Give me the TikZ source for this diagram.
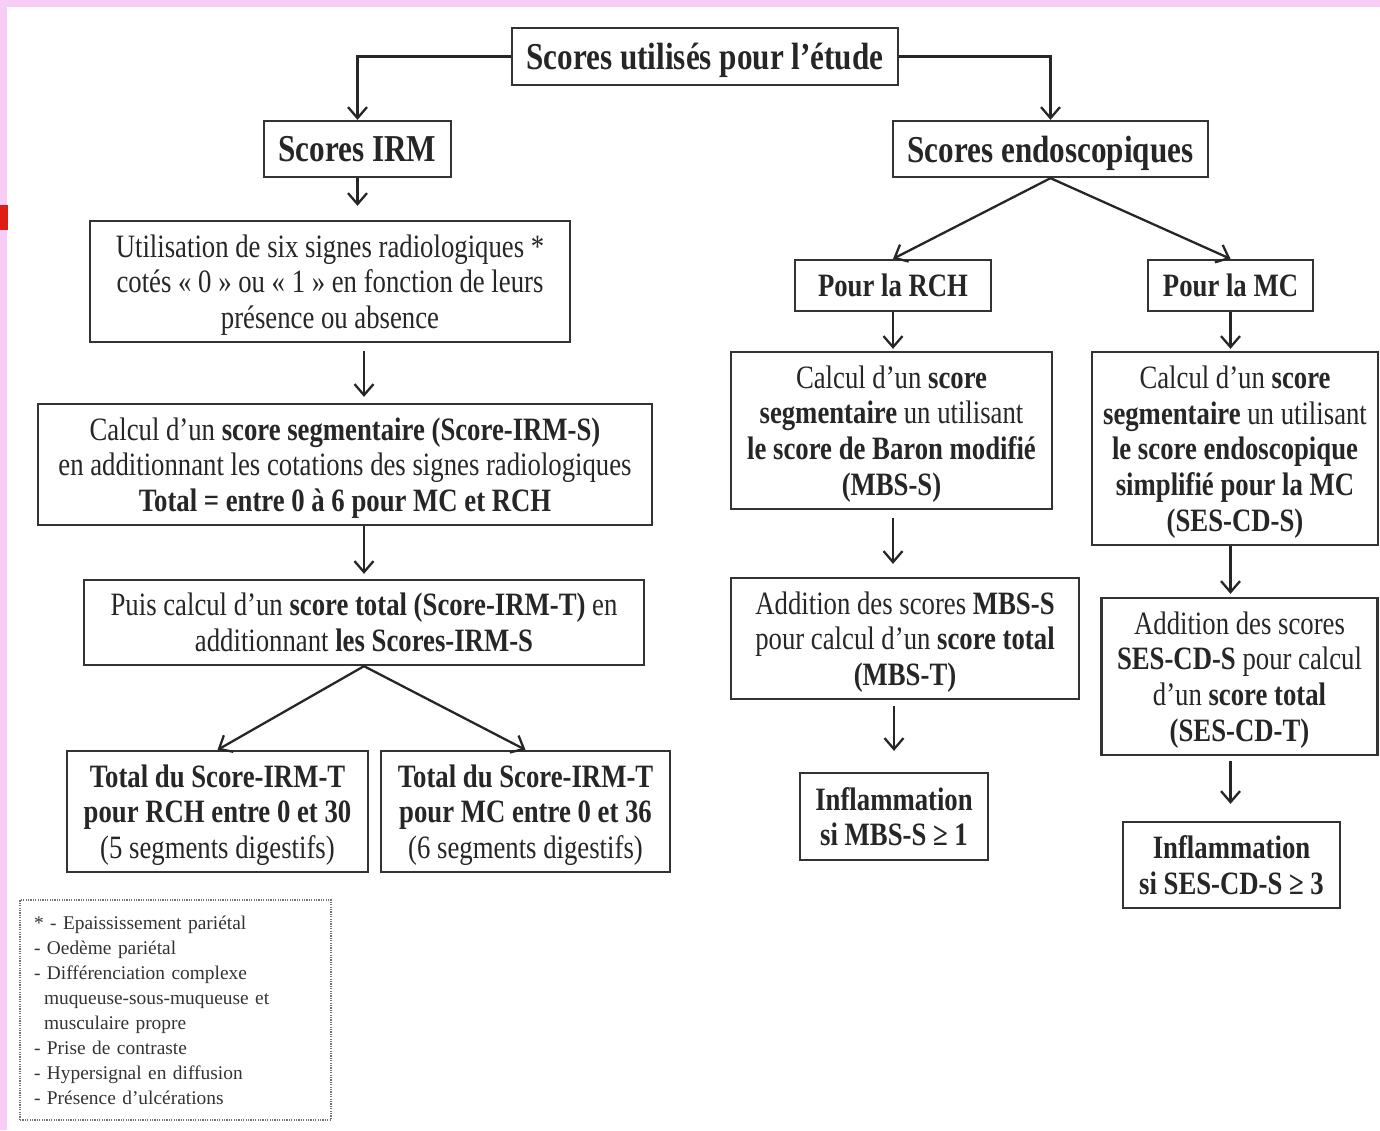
\documentclass[tikz,border=0pt]{standalone}
\usepackage{fontspec}
\setmainfont{Liberation Serif}[FakeStretch=0.82]
\newfontfamily\legendfont{Liberation Serif}
\usetikzlibrary{arrows.meta}
\definecolor{pinkedge}{RGB}{248,205,245}
\definecolor{redmark}{RGB}{222,30,20}

\begin{document}
\begin{tikzpicture}[x=0.5pt,y=-0.5pt,->,>={Straight Barb[length=5.5pt,width=9.5pt]},line width=1.15pt,color=black!85,
    base/.style={draw=black!80,-,align=center,inner sep=0pt,text depth=-1.5pt},
    box/.style 2 args={base,minimum width=#1,minimum height=#2,font=\fontsize{16.3}{17.9}\selectfont},
    tag/.style 2 args={base,minimum width=#1,minimum height=#2,font=\fontsize{16.3}{17.9}\selectfont\bfseries},
    head/.style 2 args={base,minimum width=#1,minimum height=#2,font=\fontsize{19}{22}\selectfont\bfseries},
    note/.style={draw=black!55,-,line width=0.8pt,dash pattern=on 0.6pt off 0.6pt,align=left,inner xsep=7pt,
        text width=141.5pt,minimum width=155.5pt,minimum height=110pt,text=black!80,
        font=\legendfont\fontsize{9.7}{12.5}\selectfont}]
    \useasboundingbox (0,0) rectangle (1380,1130);
    \fill[pinkedge] (0,0) rectangle (1380,7);
    \fill[pinkedge] (0,0) rectangle (7,1130);
    \fill[redmark] (0,205) rectangle (8,230);

    \node[head={193pt}{28.5pt}] (etude) at (705,56.5) {Scores utilisés pour l’étude};
    \node[head={93.5pt}{28pt}] (irm) at (357.5,149) {Scores IRM};
    \node[head={157.5pt}{28pt}] (endo) at (1050.5,149) {Scores endoscopiques};

    \node[box={240pt}{60.5pt}] (signes) at (330,281.5)
        {Utilisation de six signes radiologiques *\\cotés « 0 » ou « 1 » en fonction de leurs\\présence ou absence};
    \node[box={307pt}{60.5pt}] (segm) at (345,464.5)
        {Calcul d’un \textbf{score segmentaire (Score-IRM-S)}\\en additionnant les cotations des signes radiologiques\\\textbf{Total = entre 0 à 6 pour MC et RCH}};
    \node[box={280pt}{42.5pt}] (total) at (364,622.5)
        {Puis calcul d’un \textbf{score total (Score-IRM-T)} en\\additionnant \textbf{les Scores-IRM-S}};
    \node[box={150.5pt}{60.5pt}] (totrch) at (217.5,811.5)
        {\textbf{Total du Score-IRM-T}\\\textbf{pour RCH entre 0 et 30}\\(5 segments digestifs)};
    \node[box={144.5pt}{60.5pt}] (totmc) at (525.5,811.5)
        {\textbf{Total du Score-IRM-T}\\\textbf{pour MC entre 0 et 36}\\(6 segments digestifs)};
    \node[note] (signeslist) at (175.5,1010)
        {* - Epaississement pariétal\\- Oedème pariétal\\- Différenciation complexe\\\hspace*{5pt}muqueuse-sous-muqueuse et\\\hspace*{5pt}musculaire propre\\- Prise de contraste\\- Hypersignal en diffusion\\- Présence d’ulcérations};

    \node[tag={98pt}{25.5pt}] (rch) at (893,285.5) {Pour la RCH};
    \node[tag={82.5pt}{25.5pt}] (mc) at (1230.5,285.5) {Pour la MC};

    \node[box={160.5pt}{78.5pt}] (mbss) at (891.5,430.5)
        {Calcul d’un \textbf{score}\\\textbf{segmentaire} un utilisant\\\textbf{le score de Baron modifié}\\\textbf{(MBS-S)}};
    \node[box={143pt}{96.5pt}] (sess) at (1235,448.5)
        {Calcul d’un \textbf{score}\\\textbf{segmentaire} un utilisant\\\textbf{le score endoscopique}\\\textbf{simplifié pour la MC}\\\textbf{(SES-CD-S)}};
    \node[box={174pt}{60.5pt}] (mbst) at (905,638.5)
        {Addition des scores \textbf{MBS-S}\\pour calcul d’un \textbf{score total}\\\textbf{(MBS-T)}};
    \node[box={138pt}{78.5pt}] (sest) at (1239.5,676.5)
        {Addition des scores\\\textbf{SES-CD-S} pour calcul\\d’un \textbf{score total}\\\textbf{(SES-CD-T)}};
    \node[tag={94pt}{43.5pt}] (inflrch) at (894,816.5)
        {Inflammation\\si MBS-S ≥ 1};
    \node[tag={108.5pt}{43pt}] (inflmc) at (1231.5,865)
        {Inflammation\\si SES-CD-S ≥ 3};

    \draw (etude.west) -| (irm.north);
    \draw (etude.east) -| (endo.north);
    \draw[shorten >=7pt] (irm.south) -- (irm.south |- signes.north);
    \draw[shorten <=4pt,shorten >=3pt] (signes.south -| total.north) -- (segm.north -| total.north);
    \draw[shorten >=2.5pt] (segm.south -| total.north) -- (total.north);
    \draw (total.south) -- (totrch.north);
    \draw (total.south) -- (totmc.north);

    \draw (endo.south) -- (rch.north);
    \draw (endo.south) -- (mc.north);
    \draw[shorten >=1pt] (rch.south) -- (rch.south |- mbss.north);
    \draw[shorten <=4pt,shorten >=6.5pt] (mbss.south -| rch.south) -- (rch.south |- mbst.north);
    \draw[shorten <=3pt,shorten >=10.5pt] (mbst.south -| inflrch.north) -- (inflrch.north);
    \draw[shorten >=1pt] (mc.south) -- (mc.south |- sess.north);
    \draw[shorten >=1.5pt] (sess.south -| mc.south) -- (mc.south |- sest.north);
    \draw[shorten <=2.5pt,shorten >=8.5pt] (sest.south -| mc.south) -- (mc.south |- inflmc.north);
\end{tikzpicture}
\end{document}
